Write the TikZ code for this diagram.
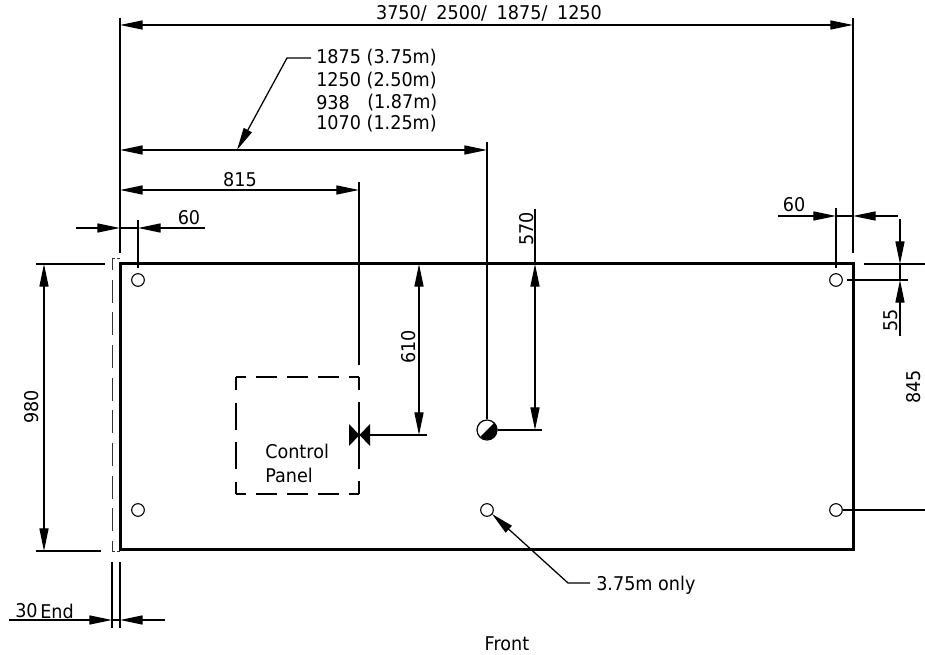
\documentclass[tikz,border=0pt]{standalone}
\usepackage{fontspec}
\setmainfont[FakeStretch=0.93]{DejaVu Sans}
\usetikzlibrary{arrows.meta}
\tikzset{
  x=0.75pt,y=-0.75pt,
  thin line/.style={line width=0.95pt,draw=black},
  dim/.style={thin line,{Triangle[length=17pt,width=6.8pt]}-{Triangle[length=17pt,width=6.8pt]}},
  head end/.style={thin line,-{Triangle[length=17pt,width=6.8pt]}},
  panel/.style={line width=2.25pt,draw=black,line join=miter},
  dashh/.style={line width=0.8pt,draw=black,dash pattern=on 15.75pt off 7.5pt,dash phase=8.25pt},
  dashv/.style={line width=0.8pt,draw=black,dash pattern=on 20.25pt off 9.4pt,dash phase=10.5pt},
  dashr/.style={line width=0.8pt,draw=black,dash pattern=on 9.75pt off 9pt on 50.25pt off 9pt on 10.5pt off 9pt},
  endline/.style={line width=0.7pt,draw=black!80,dash pattern=on 17.25pt off 7.25pt,dash phase=8.25pt},
  endcap/.style={line width=0.7pt,draw=black!80,dash pattern=on 2.25pt off 1.5pt},
  hole/.style={circle,draw=black,line width=0.8pt,fill=white,minimum size=9.5pt,inner sep=0pt},
  txt/.style={inner sep=0pt,font=\fontsize{14.2}{16}\selectfont},
  ltxt/.style={txt,anchor=west},
  rtxt/.style={txt,rotate=90}
}
\begin{document}
\begin{tikzpicture}
\useasboundingbox (0,0) rectangle (925,655);
% panel
\coordinate (P1) at (120,264); \coordinate (P2) at (853,550);
\draw[panel] (P1) rectangle (P2);
% end panel outline
\coordinate (E1) at (120,258); \coordinate (E2) at (112,258);
\coordinate (E3) at (112,551); \coordinate (E4) at (120,551);
\draw[endline] (E2) -- (E3);
\draw[endcap] (E1) -- (E2);
\draw[endcap] (E3) -- (E4);
% control panel
\coordinate (C1) at (359,377); \coordinate (C2) at (236,377);
\coordinate (C3) at (236,494); \coordinate (C4) at (359,494);
\draw[dashh] (C2) -- (C1);
\draw[dashh] (C3) -- (C4);
\draw[dashv] (C2) -- (C3);
\draw[dashr] (C1) -- (C4);
\node[ltxt] (ctrl) at (265,451) {Control};
\node[ltxt] (pnl) at (265,475) {Panel};
% holes
\node[hole] (h1) at (138,280) {};
\node[hole] (h2) at (836,280) {};
\node[hole] (h3) at (138,510) {};
\node[hole] (h4) at (836,510) {};
\node[hole] (h5) at (487,510) {};
% outlet (half filled circle)
\node[circle,draw=black,line width=0.9pt,fill=white,minimum size=15pt,inner sep=0pt] (out) at (487,430) {};
\fill[black] (out.45) arc[start angle=45,end angle=-135,radius=7.5pt] -- cycle;
% valve
\coordinate (VL1) at (349,424); \coordinate (VL2) at (349,446);
\coordinate (VR1) at (370,424); \coordinate (VR2) at (370,446);
\coordinate (V) at (370,435);
\fill[black] (VL1) -- (VR2) -- (VR1) -- (VL2) -- cycle;
% top dimension
\coordinate (a1) at (120,18); \coordinate (a2) at (120,253);
\coordinate (b1) at (853,18); \coordinate (b2) at (853,253);
\draw[thin line] (a1) -- (a2);
\draw[thin line] (b1) -- (b2);
\coordinate (tl) at (120,25); \coordinate (tr) at (853,25);
\draw[dim] (tl) -- (tr);
\node[txt] (t1) at (489,13) {3750/\hspace{3pt} 2500/\hspace{3pt} 1875/\hspace{3pt} 1250};
% centre dimension
\coordinate (ml) at (120,150); \coordinate (mr) at (487,150);
\coordinate (mt) at (487,142);
\draw[dim] (ml) -- (mr);
\draw[thin line] (mt) -- (out.north);
\coordinate (la) at (237,150); \coordinate (lb) at (287,58); \coordinate (lc) at (311,58);
\draw[head end] (lc) -- (lb) -- (la);
\node[ltxt] (m1) at (316,58) {1875 (3.75m)};
\node[ltxt] (m2) at (316,81) {1250 (2.50m)};
\node[ltxt] (m3) at (316,103) {938};
\node[ltxt] (m3b) at (367,103) {(1.87m)};
\node[ltxt] (m4) at (316,124) {1070 (1.25m)};
% 815
\coordinate (sl) at (120,190); \coordinate (sr) at (359,190);
\coordinate (st) at (359,182); \coordinate (sb) at (359,365);
\draw[dim] (sl) -- (sr);
\draw[thin line] (st) -- (sb);
\node[txt] (t815) at (240,180) {815};
% 60 left
\coordinate (d1) at (76,228); \coordinate (d2) at (120,228);
\coordinate (d3) at (205,228); \coordinate (d4) at (138,228);
\draw[head end] (d1) -- (d2);
\draw[head end] (d3) -- (d4);
\draw[thin line] (d2) -- (d4);
\coordinate (d5) at (138,220); \coordinate (d6) at (138,268);
\draw[thin line] (d5) -- (d6);
\node[txt] (t60a) at (189,218) {60};
% 60 right
\coordinate (e1) at (778,216); \coordinate (e2) at (836,216);
\coordinate (e3) at (898,216); \coordinate (e4) at (853,216);
\draw[head end] (e1) -- (e2);
\draw[head end] (e3) -- (e4);
\draw[thin line] (e2) -- (e4);
\coordinate (e5) at (836,208); \coordinate (e6) at (836,268);
\draw[thin line] (e5) -- (e6);
\node[txt] (t60b) at (794,205) {60};
% 55
\coordinate (f1) at (900,219); \coordinate (f2) at (900,264);
\coordinate (f3) at (900,336); \coordinate (f4) at (900,280);
\draw[head end] (f1) -- (f2);
\draw[head end] (f3) -- (f4);
\draw[thin line] (f2) -- (f4);
\coordinate (f5) at (864,264); \coordinate (f6) at (925,264);
\coordinate (f7) at (847,280); \coordinate (f8) at (908,280);
\draw[thin line] (f5) -- (f6);
\draw[thin line] (f7) -- (f8);
\node[rtxt] (t55) at (891,320) {55};
% 845
\node[rtxt] (t845) at (913.5,387) {845};
\coordinate (g1) at (925,510);
\draw[thin line] (h4) -- (g1);
% 980
\coordinate (k1) at (36,264); \coordinate (k2) at (105,264);
\coordinate (k3) at (36,551); \coordinate (k4) at (101,551);
\draw[thin line] (k1) -- (k2);
\draw[thin line] (k3) -- (k4);
\coordinate (k5) at (44,264); \coordinate (k6) at (44,551);
\draw[dim] (k5) -- (k6);
\node[rtxt] (t980) at (32,407) {980};
% 610
\coordinate (n1) at (419,264); \coordinate (n2) at (419,435);
\draw[dim] (n1) -- (n2);
\coordinate (n3) at (427,435);
\draw[thin line] (V) -- (n3);
\node[rtxt] (t610) at (409,347) {610};
% 570
\coordinate (q1) at (535,209); \coordinate (q2) at (535,264);
\coordinate (q3) at (535,430); \coordinate (q4) at (542,430);
\draw[thin line] (q1) -- (q2);
\draw[dim] (q2) -- (q3);
\draw[thin line] (out.east) -- (q4);
\node[rtxt] (t570) at (527,229) {570};
% 30 End
\coordinate (u1) at (112,562); \coordinate (u2) at (112,628);
\coordinate (u3) at (120,562); \coordinate (u4) at (120,628);
\draw[thin line] (u1) -- (u2);
\draw[thin line] (u3) -- (u4);
\coordinate (w1) at (9,620); \coordinate (w2) at (112,620);
\coordinate (w3) at (165,620); \coordinate (w4) at (120,620);
\draw[head end] (w1) -- (w2);
\draw[head end] (w3) -- (w4);
\draw[thin line] (w2) -- (w4);
\node[ltxt] (t30) at (15,611) {30};
\node[ltxt] (tend) at (40,611) {End};
% 3.75m only
\coordinate (o1) at (590,583); \coordinate (o2) at (568,583);
\coordinate (o3) at (492,514);
\draw[head end] (o1) -- (o2) -- (o3);
\node[ltxt] (only) at (596,585) {3.75m only};
\node[txt] (front) at (507,644) {Front};
\end{tikzpicture}
\end{document}
